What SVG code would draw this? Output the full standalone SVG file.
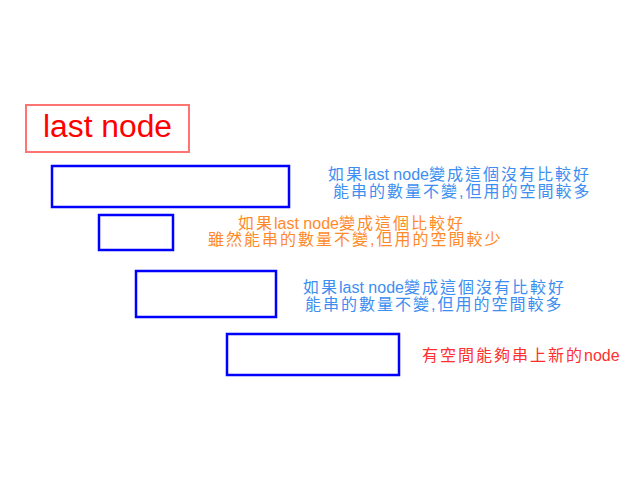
<svg xmlns="http://www.w3.org/2000/svg" width="640" height="480" viewBox="0 0 640 480">
<style>
.box{fill:#fff;stroke:#0000ff;stroke-width:2.5}
.t{font-family:"Liberation Sans","Noto Sans CJK TC",sans-serif;font-size:16px;letter-spacing:2px}
.l{font-size:16px;letter-spacing:0}
.blue{fill:#3d8ef0}
.orange{fill:#ff8a2a}
</style>
<rect width="640" height="480" fill="#fff"/>
<g id="lastnode">
<rect x="26" y="105" width="163" height="47" fill="#fff" stroke="#ff7373" stroke-width="2"/>
<text x="43" y="137" font-family="Liberation Sans, sans-serif" font-size="31" fill="#ff0000" textLength="129" lengthAdjust="spacingAndGlyphs">last node</text>
</g>
<g id="node1"><rect class="box" x="52" y="166" width="237" height="41"/></g>
<g id="node2"><rect class="box" x="99" y="215" width="74" height="35"/></g>
<g id="node3"><rect class="box" x="136" y="271" width="140" height="46"/></g>
<g id="node4"><rect class="box" x="227" y="334" width="172" height="41"/></g>
<g id="connectors"></g>
<g id="labels">
<text class="t blue" x="328" y="180">如果<tspan class="l">last node</tspan>變成這個沒有比較好</text>
<text class="t blue" x="333" y="197">能串的數量不變,但用的空間較多</text>
<text class="t orange" x="238" y="229">如果<tspan class="l">last node</tspan>變成這個比較好</text>
<text class="t orange" x="208" y="245">雖然能串的數量不變,但用的空間較少</text>
<text class="t blue" x="303" y="293">如果<tspan class="l">last node</tspan>變成這個沒有比較好</text>
<text class="t blue" x="305" y="310">能串的數量不變,但用的空間較多</text>
<text class="t" x="422" y="361" fill="#ff3030">有空間能夠串上新的<tspan class="l">node</tspan></text>
</g>
</svg>
